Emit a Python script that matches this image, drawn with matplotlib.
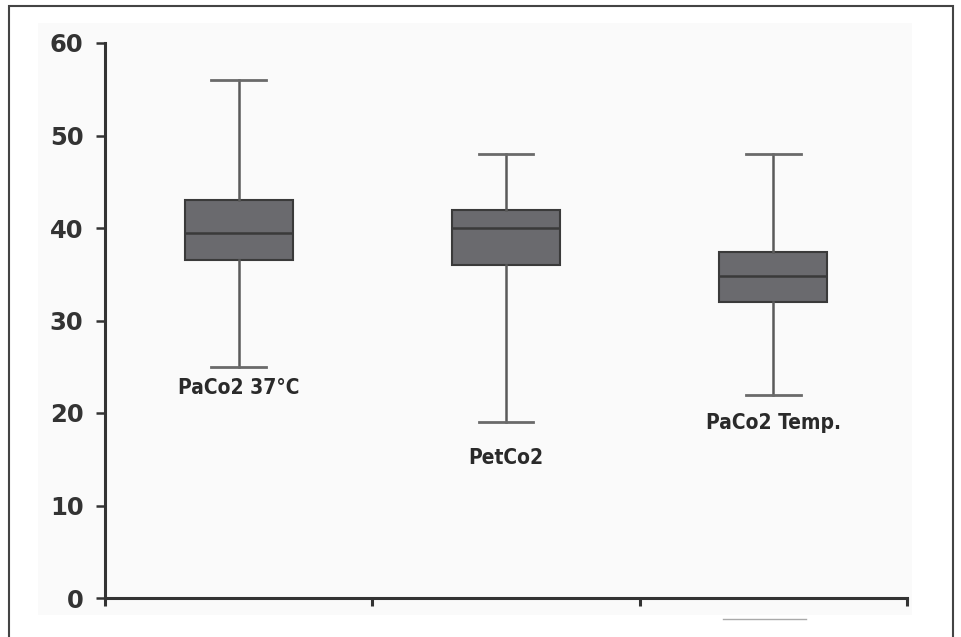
import matplotlib
matplotlib.use("Agg")
import matplotlib.pyplot as plt
from matplotlib.patches import Rectangle
from matplotlib.lines import Line2D

# values
labels = ['PaCo2 37°C', 'PetCo2', 'PaCo2 Temp.']
whislo = [25, 19, 22]
q1 = [36.5, 36, 32]
med = [39.5, 40, 34.8]
q3 = [43, 42, 37.4]
whishi = [56, 48, 48]
label_y = [22.7, 15.1, 18.9]
positions = [0.5, 1.5, 2.5]
yticks = [0, 10, 20, 30, 40, 50, 60]

stats = []
for i in range(len(labels)):
    stats.append({'whislo': whislo[i], 'q1': q1[i], 'med': med[i],
                  'q3': q3[i], 'whishi': whishi[i], 'fliers': []})

fig = plt.figure(figsize=(9.62, 6.37), dpi=100)
fig.patch.set_facecolor('white')

# outer frame and faint grey panel behind the plot
fig.patches.append(Rectangle((38 / 962, 22 / 637), 874 / 962, 592 / 637,
                             transform=fig.transFigure, facecolor='#fafafa',
                             edgecolor='none', zorder=-5))
fig.patches.append(Rectangle((9 / 962, -0.05), 944 / 962, 1.05 - 6 / 637,
                             transform=fig.transFigure, facecolor='none',
                             edgecolor='#444444', linewidth=1.5, zorder=5))
fig.lines.append(Line2D([723 / 962, 806 / 962], [1 - 619 / 637, 1 - 619 / 637],
                        transform=fig.transFigure, color='#aaaaaa', linewidth=1,
                        zorder=5))

ax = fig.add_axes([105 / 962, 1 - 598 / 637, 802 / 962, 555 / 637])
ax.set_facecolor('none')

ax.bxp(stats, positions=positions, widths=0.405, showfliers=False,
       patch_artist=True,
       boxprops=dict(facecolor='#6a6a6e', edgecolor='#3a3a3a', linewidth=1.5),
       medianprops=dict(color='#3a3a3a', linewidth=1.8),
       whiskerprops=dict(color='#5a5a5a', linewidth=1.8),
       capprops=dict(color='#6a6a6a', linewidth=2.0),
       capwidths=0.205)

for x, y, t in zip(positions, label_y, labels):
    ax.text(x, y, t, ha='center', va='center', fontsize=15,
            fontweight='bold', color='#2a2a2a', fontstretch='condensed')

ax.set_xlim(0, 3)
ax.set_ylim(0, 60)
ax.set_xticks([0, 1, 2, 3])
ax.set_xticklabels([])
ax.set_yticks(yticks)
ax.set_yticklabels([str(v) for v in yticks], fontsize=17.5, fontweight='bold',
                   color='#333333')

for s in ['top', 'right']:
    ax.spines[s].set_visible(False)
for s in ['left', 'bottom']:
    ax.spines[s].set_linewidth(2.2)
    ax.spines[s].set_color('#333333')
ax.tick_params(axis='y', length=6.5, width=1.8, color='#333333', pad=9)
ax.tick_params(axis='x', length=6, width=2.2, color='#333333')

fig.savefig('out.png', dpi=100)
